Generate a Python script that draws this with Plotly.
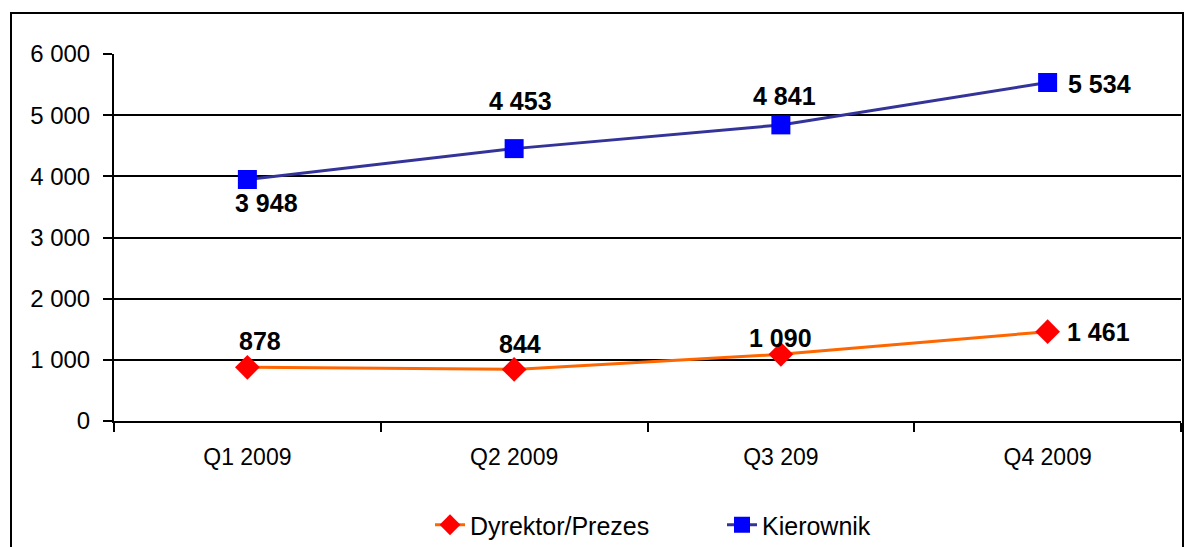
import plotly.graph_objects as go

categories = ["Q1 2009", "Q2 2009", "Q3 209", "Q4 2009"]
dyrektor = [878, 844, 1090, 1461]
kierownik = [3948, 4453, 4841, 5534]
y_ticks = [0, 1000, 2000, 3000, 4000, 5000, 6000]

# label offsets in pixels (xshift, yshift) per point
kier_shift = [(19, -23), (6, 48), (4, 29), (52, -1)]
dyr_shift = [(13, 26), (6, 25), (0, 16), (51, 0)]

FONT = "Arial, Liberation Sans, sans-serif"


def fmt(v):
    return f"{v:,}".replace(",", " ")


fig = go.Figure()
fig.add_trace(go.Scatter(
    x=categories, y=dyrektor, name="Dyrektor/Prezes", mode="lines+markers",
    line=dict(color="#FF6600", width=3),
    marker=dict(symbol="diamond", size=19, color="#FF0000", line=dict(width=0)),
))
fig.add_trace(go.Scatter(
    x=categories, y=kierownik, name="Kierownik", mode="lines+markers",
    line=dict(color="#333399", width=3),
    marker=dict(symbol="square", size=19, color="#0000FF", line=dict(width=0)),
))

annotations = []
for series, shifts in ((kierownik, kier_shift), (dyrektor, dyr_shift)):
    for c, v, (dx, dy) in zip(categories, series, shifts):
        annotations.append(dict(
            x=c, y=v, xref="x", yref="y", text=f"<b>{fmt(v)}</b>",
            showarrow=False, xshift=dx, yshift=dy,
            font=dict(family=FONT, size=25, color="#000000"),
        ))

# outer frame (paper coords computed from plot area 114..1181 x, 54..421 y)
W, H = 1067.0, 367.0
x0 = (11 - 114) / W
x1 = (1183 - 114) / W
y1 = (421 - 13) / H
y0 = (421 - 570) / H

fig.update_layout(
    width=1185, height=547,
    margin=dict(l=114, r=4, t=54, b=126, autoexpand=False),
    paper_bgcolor="white", plot_bgcolor="white",
    font=dict(family=FONT, size=23, color="#000000"),
    showlegend=True,
    legend=dict(orientation="h", x=(430 - 114) / W, xanchor="left",
                yref="container", y=1 - 525 / 547, yanchor="middle",
                font=dict(size=25), entrywidth=247,
                entrywidthmode="pixels", tracegroupgap=0),
    annotations=annotations,
    shapes=[dict(type="rect", xref="paper", yref="paper", x0=x0, x1=x1, y0=y0, y1=y1,
                 line=dict(color="#000000", width=2), layer="below")],
    xaxis=dict(
        type="category", range=[-0.5, 3.5], showgrid=False,
        showline=True, linecolor="#000000", linewidth=2,
        ticks="outside", ticklen=9, tickwidth=2, tickcolor="#000000",
        tickson="boundaries", ticklabelstandoff=14,
        tickfont=dict(size=23), automargin=False,
    ),
    yaxis=dict(
        range=[0, 6000], tickvals=y_ticks, ticktext=[fmt(v) for v in y_ticks],
        showgrid=True, gridcolor="#000000", gridwidth=1.6,
        showline=True, linecolor="#000000", linewidth=2,
        ticks="outside", ticklen=9, tickwidth=2, tickcolor="#000000",
        ticklabelstandoff=8, zeroline=False,
        tickfont=dict(size=24), automargin=False,
    ),
)

fig.write_html("out.html", config={"displayModeBar": False},
               post_script="document.body.style.margin='0px';")
